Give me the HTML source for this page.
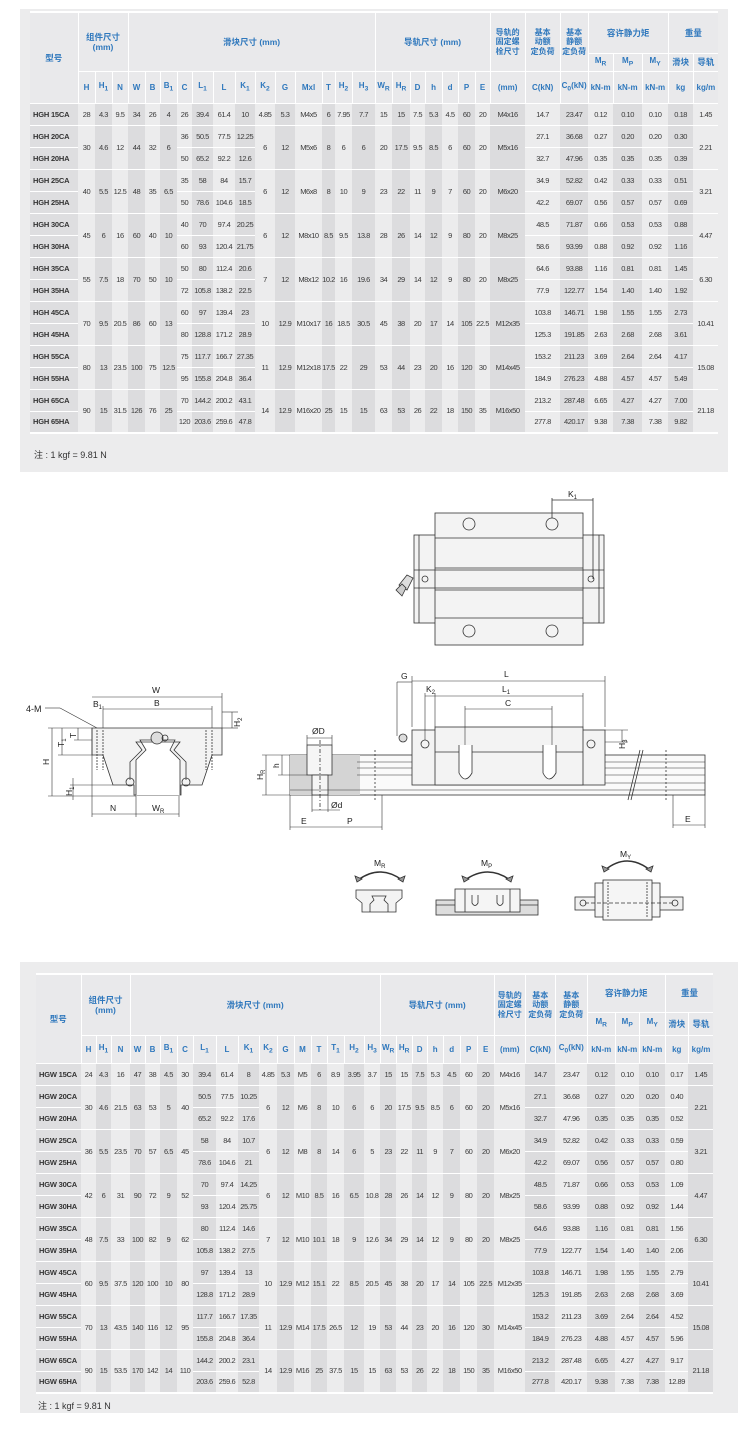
<!DOCTYPE html>
<html><head><meta charset="utf-8">
<style>
body{margin:0;width:750px;height:1448px;background:#fff;position:relative;overflow:hidden;font-family:"Liberation Sans","Noto Sans CJK SC",sans-serif}
.bg{position:absolute;background:#ececed}
table{position:absolute;border-collapse:collapse;table-layout:fixed;font-size:7.5px;color:#3a3a3a;border-top:2px solid #fff;border-bottom:2px solid #fff}
td,th{padding:0;text-align:center;border-bottom:1px solid #fff;white-space:nowrap;overflow:visible;line-height:9px}
td{letter-spacing:-0.45px}
thead th{color:#2f78bd;font-weight:bold;font-size:8px;border-left:1px solid #fff;background:#e9e9eb;overflow:hidden}
thead th.cn{font-size:8.5px;white-space:normal;line-height:10px}
thead th.g{font-size:8px;line-height:9.5px}
tbody th{font-weight:bold;font-size:7.5px;text-align:left;padding-left:3px;color:#333;letter-spacing:-0.2px}
col.s{background:#dcdcde}
col.m{background:#dedee0}
tbody tr{height:22px}
.note{position:absolute;font-size:9px;color:#333}
svg text{font-family:"Liberation Sans",sans-serif;fill:#222}
</style></head><body>
<div class="bg" style="left:20px;top:9px;width:708px;height:463px"></div>
<table style="left:30px;top:11px;width:688px">
<colgroup><col class="m" style="width:48px"><col style="width:17px"><col class="s" style="width:17px"><col style="width:16px"><col class="s" style="width:17px"><col style="width:15px"><col class="s" style="width:17px"><col style="width:15px"><col class="s" style="width:21px"><col style="width:22px"><col class="s" style="width:20px"><col style="width:20px"><col class="s" style="width:20px"><col style="width:27px"><col class="s" style="width:13px"><col style="width:17px"><col class="s" style="width:23px"><col style="width:17px"><col class="s" style="width:18px"><col style="width:15px"><col class="s" style="width:17px"><col style="width:16px"><col class="s" style="width:17px"><col style="width:15px"><col class="s" style="width:35px"><col style="width:35px"><col class="s" style="width:28px"><col style="width:25px"><col class="s" style="width:29px"><col style="width:26px"><col class="s" style="width:25px"><col style="width:25px"></colgroup>
<thead>
<tr style="height:41px"><th class="cn" rowspan="3" style="border-left:none">型号</th><th class="cn" colspan="3" rowspan="2">组件尺寸<br>(mm)</th><th class="cn" colspan="13" rowspan="2">滑块尺寸 (mm)</th><th class="cn" colspan="7" rowspan="2">导轨尺寸 (mm)</th><th class="cn g" rowspan="2">导轨的<br>固定螺<br>栓尺寸</th><th class="cn g" rowspan="2">基本<br>动额<br>定负荷</th><th class="cn g" rowspan="2">基本<br>静额<br>定负荷</th><th class="cn" colspan="3">容许静力矩</th><th class="cn" colspan="2">重量</th></tr>
<tr style="height:18px"><th>M<sub>R</sub></th><th>M<sub>P</sub></th><th>M<sub>Y</sub></th><th class="cn">滑块</th><th class="cn">导轨</th></tr>
<tr style="height:32px"><th>H</th><th>H<sub>1</sub></th><th>N</th><th>W</th><th>B</th><th>B<sub>1</sub></th><th>C</th><th>L<sub>1</sub></th><th>L</th><th>K<sub>1</sub></th><th>K<sub>2</sub></th><th>G</th><th>Mxl</th><th>T</th><th>H<sub>2</sub></th><th>H<sub>3</sub></th><th>W<sub>R</sub></th><th>H<sub>R</sub></th><th>D</th><th>h</th><th>d</th><th>P</th><th>E</th><th>(mm)</th><th>C(kN)</th><th>C<sub>0</sub>(kN)</th><th>kN-m</th><th>kN-m</th><th>kN-m</th><th>kg</th><th>kg/m</th></tr>
</thead>
<tbody>
<tr><th>HGH 15CA</th><td>28</td><td>4.3</td><td>9.5</td><td>34</td><td>26</td><td>4</td><td>26</td><td>39.4</td><td>61.4</td><td>10</td><td>4.85</td><td>5.3</td><td>M4x5</td><td>6</td><td>7.95</td><td>7.7</td><td>15</td><td>15</td><td>7.5</td><td>5.3</td><td>4.5</td><td>60</td><td>20</td><td>M4x16</td><td>14.7</td><td>23.47</td><td>0.12</td><td>0.10</td><td>0.10</td><td>0.18</td><td>1.45</td></tr>
<tr><th>HGH 20CA</th><td rowspan="2">30</td><td rowspan="2">4.6</td><td rowspan="2">12</td><td rowspan="2">44</td><td rowspan="2">32</td><td rowspan="2">6</td><td>36</td><td>50.5</td><td>77.5</td><td>12.25</td><td rowspan="2">6</td><td rowspan="2">12</td><td rowspan="2">M5x6</td><td rowspan="2">8</td><td rowspan="2">6</td><td rowspan="2">6</td><td rowspan="2">20</td><td rowspan="2">17.5</td><td rowspan="2">9.5</td><td rowspan="2">8.5</td><td rowspan="2">6</td><td rowspan="2">60</td><td rowspan="2">20</td><td rowspan="2">M5x16</td><td>27.1</td><td>36.68</td><td>0.27</td><td>0.20</td><td>0.20</td><td>0.30</td><td rowspan="2">2.21</td></tr>
<tr><th>HGH 20HA</th><td>50</td><td>65.2</td><td>92.2</td><td>12.6</td><td>32.7</td><td>47.96</td><td>0.35</td><td>0.35</td><td>0.35</td><td>0.39</td></tr>
<tr><th>HGH 25CA</th><td rowspan="2">40</td><td rowspan="2">5.5</td><td rowspan="2">12.5</td><td rowspan="2">48</td><td rowspan="2">35</td><td rowspan="2">6.5</td><td>35</td><td>58</td><td>84</td><td>15.7</td><td rowspan="2">6</td><td rowspan="2">12</td><td rowspan="2">M6x8</td><td rowspan="2">8</td><td rowspan="2">10</td><td rowspan="2">9</td><td rowspan="2">23</td><td rowspan="2">22</td><td rowspan="2">11</td><td rowspan="2">9</td><td rowspan="2">7</td><td rowspan="2">60</td><td rowspan="2">20</td><td rowspan="2">M6x20</td><td>34.9</td><td>52.82</td><td>0.42</td><td>0.33</td><td>0.33</td><td>0.51</td><td rowspan="2">3.21</td></tr>
<tr><th>HGH 25HA</th><td>50</td><td>78.6</td><td>104.6</td><td>18.5</td><td>42.2</td><td>69.07</td><td>0.56</td><td>0.57</td><td>0.57</td><td>0.69</td></tr>
<tr><th>HGH 30CA</th><td rowspan="2">45</td><td rowspan="2">6</td><td rowspan="2">16</td><td rowspan="2">60</td><td rowspan="2">40</td><td rowspan="2">10</td><td>40</td><td>70</td><td>97.4</td><td>20.25</td><td rowspan="2">6</td><td rowspan="2">12</td><td rowspan="2">M8x10</td><td rowspan="2">8.5</td><td rowspan="2">9.5</td><td rowspan="2">13.8</td><td rowspan="2">28</td><td rowspan="2">26</td><td rowspan="2">14</td><td rowspan="2">12</td><td rowspan="2">9</td><td rowspan="2">80</td><td rowspan="2">20</td><td rowspan="2">M8x25</td><td>48.5</td><td>71.87</td><td>0.66</td><td>0.53</td><td>0.53</td><td>0.88</td><td rowspan="2">4.47</td></tr>
<tr><th>HGH 30HA</th><td>60</td><td>93</td><td>120.4</td><td>21.75</td><td>58.6</td><td>93.99</td><td>0.88</td><td>0.92</td><td>0.92</td><td>1.16</td></tr>
<tr><th>HGH 35CA</th><td rowspan="2">55</td><td rowspan="2">7.5</td><td rowspan="2">18</td><td rowspan="2">70</td><td rowspan="2">50</td><td rowspan="2">10</td><td>50</td><td>80</td><td>112.4</td><td>20.6</td><td rowspan="2">7</td><td rowspan="2">12</td><td rowspan="2">M8x12</td><td rowspan="2">10.2</td><td rowspan="2">16</td><td rowspan="2">19.6</td><td rowspan="2">34</td><td rowspan="2">29</td><td rowspan="2">14</td><td rowspan="2">12</td><td rowspan="2">9</td><td rowspan="2">80</td><td rowspan="2">20</td><td rowspan="2">M8x25</td><td>64.6</td><td>93.88</td><td>1.16</td><td>0.81</td><td>0.81</td><td>1.45</td><td rowspan="2">6.30</td></tr>
<tr><th>HGH 35HA</th><td>72</td><td>105.8</td><td>138.2</td><td>22.5</td><td>77.9</td><td>122.77</td><td>1.54</td><td>1.40</td><td>1.40</td><td>1.92</td></tr>
<tr><th>HGH 45CA</th><td rowspan="2">70</td><td rowspan="2">9.5</td><td rowspan="2">20.5</td><td rowspan="2">86</td><td rowspan="2">60</td><td rowspan="2">13</td><td>60</td><td>97</td><td>139.4</td><td>23</td><td rowspan="2">10</td><td rowspan="2">12.9</td><td rowspan="2">M10x17</td><td rowspan="2">16</td><td rowspan="2">18.5</td><td rowspan="2">30.5</td><td rowspan="2">45</td><td rowspan="2">38</td><td rowspan="2">20</td><td rowspan="2">17</td><td rowspan="2">14</td><td rowspan="2">105</td><td rowspan="2">22.5</td><td rowspan="2">M12x35</td><td>103.8</td><td>146.71</td><td>1.98</td><td>1.55</td><td>1.55</td><td>2.73</td><td rowspan="2">10.41</td></tr>
<tr><th>HGH 45HA</th><td>80</td><td>128.8</td><td>171.2</td><td>28.9</td><td>125.3</td><td>191.85</td><td>2.63</td><td>2.68</td><td>2.68</td><td>3.61</td></tr>
<tr><th>HGH 55CA</th><td rowspan="2">80</td><td rowspan="2">13</td><td rowspan="2">23.5</td><td rowspan="2">100</td><td rowspan="2">75</td><td rowspan="2">12.5</td><td>75</td><td>117.7</td><td>166.7</td><td>27.35</td><td rowspan="2">11</td><td rowspan="2">12.9</td><td rowspan="2">M12x18</td><td rowspan="2">17.5</td><td rowspan="2">22</td><td rowspan="2">29</td><td rowspan="2">53</td><td rowspan="2">44</td><td rowspan="2">23</td><td rowspan="2">20</td><td rowspan="2">16</td><td rowspan="2">120</td><td rowspan="2">30</td><td rowspan="2">M14x45</td><td>153.2</td><td>211.23</td><td>3.69</td><td>2.64</td><td>2.64</td><td>4.17</td><td rowspan="2">15.08</td></tr>
<tr><th>HGH 55HA</th><td>95</td><td>155.8</td><td>204.8</td><td>36.4</td><td>184.9</td><td>276.23</td><td>4.88</td><td>4.57</td><td>4.57</td><td>5.49</td></tr>
<tr><th>HGH 65CA</th><td rowspan="2">90</td><td rowspan="2">15</td><td rowspan="2">31.5</td><td rowspan="2">126</td><td rowspan="2">76</td><td rowspan="2">25</td><td>70</td><td>144.2</td><td>200.2</td><td>43.1</td><td rowspan="2">14</td><td rowspan="2">12.9</td><td rowspan="2">M16x20</td><td rowspan="2">25</td><td rowspan="2">15</td><td rowspan="2">15</td><td rowspan="2">63</td><td rowspan="2">53</td><td rowspan="2">26</td><td rowspan="2">22</td><td rowspan="2">18</td><td rowspan="2">150</td><td rowspan="2">35</td><td rowspan="2">M16x50</td><td>213.2</td><td>287.48</td><td>6.65</td><td>4.27</td><td>4.27</td><td>7.00</td><td rowspan="2">21.18</td></tr>
<tr><th>HGH 65HA</th><td>120</td><td>203.6</td><td>259.6</td><td>47.8</td><td>277.8</td><td>420.17</td><td>9.38</td><td>7.38</td><td>7.38</td><td>9.82</td></tr>
</tbody></table>
<div class="note" style="left:34px;top:448px">注 : 1 kgf = 9.81 N</div>

<svg style="position:absolute;left:0;top:480px" width="750" height="460" viewBox="0 480 750 460" fill="none" stroke="#333" stroke-width="0.8">
<rect x="414" y="535" width="190" height="88" fill="#f3f3f3"/>
<rect x="435" y="513" width="148" height="132" fill="#f3f3f3"/>
<line x1="435" y1="538" x2="583" y2="538"/><line x1="435" y1="568" x2="583" y2="568"/><line x1="414" y1="570" x2="604" y2="570"/><line x1="414" y1="588" x2="604" y2="588"/><line x1="435" y1="590" x2="583" y2="590"/><line x1="435" y1="618" x2="583" y2="618"/>
<line x1="419" y1="535" x2="419" y2="623"/><line x1="599" y1="535" x2="599" y2="623"/>
<circle cx="469" cy="524" r="6"/><circle cx="552" cy="524" r="6"/><circle cx="469" cy="631" r="6"/><circle cx="552" cy="631" r="6"/>
<circle cx="425" cy="579" r="3"/><circle cx="591" cy="579" r="3"/>
<path d="M399 585 l8 -10 6 3 -6 12z" fill="#ddd"/><path d="M396 590 l6 -6 4 4 -4 8z" fill="#ccc"/>
<line x1="552" y1="518" x2="552" y2="498"/><line x1="593" y1="498" x2="593" y2="579"/><line x1="552" y1="500" x2="593" y2="500"/>
<rect x="290" y="755" width="415" height="40" fill="#fafafa"/>
<rect x="290" y="755" width="70" height="40" fill="#d4d4d4" stroke="none"/>
<rect x="307" y="745" width="25" height="30" fill="#f5f5f5"/>
<rect x="312" y="775" width="16" height="20" fill="#f5f5f5"/>
<line x1="320" y1="740" x2="320" y2="810" stroke-dasharray="4 2 1 2"/>
<g stroke-width="0.6"><line x1="357" y1="762" x2="412" y2="762"/><line x1="357" y1="768" x2="412" y2="768"/><line x1="357" y1="775" x2="412" y2="775"/><line x1="605" y1="762" x2="705" y2="762"/><line x1="605" y1="768" x2="705" y2="768"/><line x1="605" y1="775" x2="705" y2="775"/><line x1="605" y1="783" x2="705" y2="783"/><line x1="290" y1="790" x2="705" y2="790"/></g>
<line x1="375" y1="750" x2="375" y2="800" stroke-dasharray="2 2"/><line x1="666" y1="750" x2="666" y2="800" stroke-dasharray="2 2"/>
<rect x="412" y="730" width="193" height="55" fill="#f3f3f3"/>
<rect x="435" y="727" width="148" height="58" fill="#f3f3f3"/>
<line x1="435" y1="752" x2="583" y2="752"/>
<path d="M459 745 v28 q6 12 13 0 v-28" fill="#fff"/><path d="M543 745 v28 q6 12 13 0 v-28" fill="#fff"/>
<circle cx="425" cy="744" r="4"/><circle cx="591" cy="744" r="4"/><circle cx="403" cy="738" r="4" fill="#ddd"/>
<line x1="628" y1="800" x2="640" y2="750"/><line x1="631" y1="800" x2="643" y2="750"/>
<g stroke-width="0.6">
<line x1="412" y1="727" x2="412" y2="676"/><line x1="605" y1="727" x2="605" y2="676"/><line x1="412" y1="681" x2="605" y2="681"/>
<line x1="435" y1="727" x2="435" y2="693"/><line x1="583" y1="727" x2="583" y2="693"/><line x1="425" y1="696" x2="583" y2="696"/>
<line x1="465" y1="745" x2="465" y2="706"/><line x1="552" y1="745" x2="552" y2="706"/><line x1="465" y1="709" x2="552" y2="709"/>
<line x1="425" y1="740" x2="425" y2="693"/><line x1="397" y1="682" x2="412" y2="682"/><line x1="397" y1="682" x2="397" y2="736"/>
<line x1="605" y1="730" x2="628" y2="730"/><line x1="605" y1="742" x2="628" y2="742"/><line x1="622" y1="730" x2="622" y2="742"/>
<line x1="290" y1="755" x2="262" y2="755"/><line x1="290" y1="795" x2="262" y2="795"/><line x1="266" y1="755" x2="266" y2="795"/>
<line x1="282" y1="755" x2="282" y2="775"/><line x1="278" y1="775" x2="307" y2="775"/>
<line x1="307" y1="745" x2="307" y2="735"/><line x1="332" y1="745" x2="332" y2="735"/><line x1="307" y1="738" x2="332" y2="738"/>
<line x1="312" y1="795" x2="312" y2="812"/><line x1="328" y1="795" x2="328" y2="812"/><line x1="312" y1="810" x2="340" y2="810"/>
<line x1="290" y1="795" x2="290" y2="830"/><line x1="382" y1="795" x2="382" y2="830"/><line x1="290" y1="827" x2="382" y2="827"/>
<line x1="673" y1="795" x2="673" y2="828"/><line x1="705" y1="795" x2="705" y2="828"/><line x1="673" y1="825" x2="705" y2="825"/>
</g>
<path d="M92 728 H222 V755 H212 L202 785 H181 V795 H134 V785 H113 L103 755 H92 Z" fill="#f3f3f3"/>
<path d="M136 795 V760 L146 750 L140 740 H175 L170 750 L180 760 V795" fill="#fff"/>
<path d="M130 780 V762 L142 750 L136 742 H180 L174 750 L186 762 V780" />
<circle cx="130" cy="782" r="4"/><circle cx="186" cy="782" r="4"/>
<circle cx="157" cy="738" r="6" fill="#ddd"/><circle cx="165" cy="738" r="3"/>
<line x1="97" y1="730" x2="97" y2="770" stroke-dasharray="2 1"/><line x1="103" y1="730" x2="103" y2="770" stroke-dasharray="2 1"/><line x1="212" y1="730" x2="212" y2="770" stroke-dasharray="2 1"/><line x1="206" y1="730" x2="206" y2="770" stroke-dasharray="2 1"/>
<g stroke-width="0.6">
<line x1="92" y1="728" x2="92" y2="817"/><line x1="222" y1="728" x2="222" y2="693"/><line x1="92" y1="697" x2="222" y2="697"/>
<line x1="103" y1="728" x2="103" y2="706"/><line x1="212" y1="728" x2="212" y2="706"/><line x1="103" y1="709" x2="212" y2="709"/>
<line x1="222" y1="728" x2="238" y2="728"/><line x1="222" y1="712" x2="238" y2="712"/><line x1="232" y1="712" x2="232" y2="728"/>
<line x1="48" y1="728" x2="92" y2="728"/><line x1="48" y1="796" x2="136" y2="796"/><line x1="52" y1="728" x2="52" y2="796"/>
<line x1="62" y1="728" x2="62" y2="755"/><line x1="58" y1="755" x2="92" y2="755"/><line x1="78" y1="728" x2="78" y2="740"/><line x1="74" y1="740" x2="92" y2="740"/>
<line x1="73" y1="778" x2="73" y2="800"/><line x1="70" y1="785" x2="113" y2="785"/>
<line x1="136" y1="796" x2="136" y2="817"/><line x1="179" y1="796" x2="179" y2="817"/><line x1="92" y1="814" x2="179" y2="814"/>
<line x1="45" y1="708" x2="60" y2="708"/><line x1="60" y1="708" x2="97" y2="728"/>
</g>
<path d="M356 890 H402 V898 L396 903 V912 H362 V903 L356 898 Z" fill="#f3f3f3"/>
<path d="M370 912 V904 L374 900 L372 896 H386 L384 900 L388 904 V912" />
<path d="M358 880 Q380 864 402 880" stroke-width="1.5"/><path d="M355 876 l2 6 5 -3z" fill="#999"/><path d="M405 876 l-2 6 -5 -3z" fill="#999"/>
<rect x="436" y="900" width="102" height="15" fill="#ddd"/><line x1="436" y1="905" x2="538" y2="905"/>
<rect x="455" y="889" width="65" height="23" fill="#f5f5f5"/><line x1="465" y1="889" x2="465" y2="912"/><line x1="510" y1="889" x2="510" y2="912"/>
<path d="M472 895 v8 q3 5 6 0 v-8"/><path d="M497 895 v8 q3 5 6 0 v-8"/>
<path d="M465 880 Q488 864 510 880" stroke-width="1.5"/><path d="M462 876 l2 6 5 -3z" fill="#999"/><path d="M513 876 l-2 6 -5 -3z" fill="#999"/>
<rect x="575" y="897" width="108" height="13" fill="#f0f0f0"/><circle cx="583" cy="903" r="3"/><circle cx="675" cy="903" r="3"/>
<rect x="595" y="883" width="65" height="34" fill="#f5f5f5"/><rect x="603" y="880" width="49" height="40" fill="#f5f5f5"/>
<line x1="608" y1="882" x2="608" y2="918" stroke-dasharray="2 1"/><line x1="647" y1="882" x2="647" y2="918" stroke-dasharray="2 1"/><line x1="585" y1="903" x2="675" y2="903" stroke-dasharray="4 2"/>
<path d="M605 870 Q627 852 650 870" stroke-width="1.5"/><path d="M602 866 l2 6 5 -3z" fill="#999"/><path d="M653 866 l-2 6 -5 -3z" fill="#999"/>
<g stroke="none" font-size="8.5">
<text x="568" y="497">K<tspan font-size="6" dy="2">1</tspan></text>
<text x="504" y="677">L</text><text x="502" y="692">L<tspan font-size="6" dy="2">1</tspan></text><text x="505" y="706">C</text>
<text x="426" y="692">K<tspan font-size="6" dy="2">2</tspan></text><text x="401" y="679">G</text>
<text x="625" y="741" transform="rotate(-90 625 741)" dx="-8">H<tspan font-size="6" dy="2">3</tspan></text>
<text x="312" y="734">ØD</text><text x="331" y="808">Ød</text><text x="301" y="824">E</text><text x="347" y="824">P</text><text x="685" y="822">E</text>
<text x="263" y="780" transform="rotate(-90 263 780)">H<tspan font-size="6" dy="2">R</tspan></text><text x="279" y="768" transform="rotate(-90 279 768)">h</text>
<text x="152" y="693">W</text><text x="154" y="706">B</text><text x="93" y="707">B<tspan font-size="6" dy="2">1</tspan></text><text x="26" y="712" font-size="9">4-M</text>
<text x="240" y="727" transform="rotate(-90 240 727)">H<tspan font-size="6" dy="2">2</tspan></text>
<text x="49" y="765" transform="rotate(-90 49 765)">H</text><text x="64" y="747" transform="rotate(-90 64 747)">T<tspan font-size="6" dy="2">1</tspan></text><text x="76" y="738" transform="rotate(-90 76 738)">T</text>
<text x="72" y="796" transform="rotate(-90 72 796)">H<tspan font-size="6" dy="2">1</tspan></text>
<text x="110" y="811">N</text><text x="152" y="811">W<tspan font-size="6" dy="2">R</tspan></text>
<text x="374" y="866">M<tspan font-size="6" dy="2">R</tspan></text><text x="481" y="866">M<tspan font-size="6" dy="2">P</tspan></text><text x="620" y="857">M<tspan font-size="6" dy="2">Y</tspan></text>
</g>
</svg>

<div class="bg" style="left:20px;top:962px;width:718px;height:451px"></div>
<table style="left:36px;top:973px;width:676px">
<colgroup><col class="m" style="width:45px"><col style="width:15px"><col class="s" style="width:15px"><col style="width:19px"><col class="s" style="width:15px"><col style="width:15px"><col class="s" style="width:17px"><col style="width:16px"><col class="s" style="width:23px"><col style="width:22px"><col class="s" style="width:21px"><col style="width:18px"><col class="s" style="width:17px"><col style="width:17px"><col class="s" style="width:16px"><col style="width:17px"><col class="s" style="width:20px"><col style="width:16px"><col class="s" style="width:16px"><col style="width:16px"><col class="s" style="width:15px"><col style="width:16px"><col class="s" style="width:17px"><col style="width:17px"><col class="s" style="width:17px"><col style="width:31px"><col class="s" style="width:30px"><col style="width:32px"><col class="s" style="width:28px"><col style="width:24px"><col class="s" style="width:26px"><col style="width:23px"><col class="s" style="width:25px"></colgroup>
<thead>
<tr style="height:38px"><th class="cn" rowspan="3" style="border-left:none">型号</th><th class="cn" colspan="3" rowspan="2">组件尺寸<br>(mm)</th><th class="cn" colspan="14" rowspan="2">滑块尺寸 (mm)</th><th class="cn" colspan="7" rowspan="2">导轨尺寸 (mm)</th><th class="cn g" rowspan="2">导轨的<br>固定螺<br>栓尺寸</th><th class="cn g" rowspan="2">基本<br>动额<br>定负荷</th><th class="cn g" rowspan="2">基本<br>静额<br>定负荷</th><th class="cn" colspan="3">容许静力矩</th><th class="cn" colspan="2">重量</th></tr>
<tr style="height:23px"><th>M<sub>R</sub></th><th>M<sub>P</sub></th><th>M<sub>Y</sub></th><th class="cn">滑块</th><th class="cn">导轨</th></tr>
<tr style="height:28px"><th>H</th><th>H<sub>1</sub></th><th>N</th><th>W</th><th>B</th><th>B<sub>1</sub></th><th>C</th><th>L<sub>1</sub></th><th>L</th><th>K<sub>1</sub></th><th>K<sub>2</sub></th><th>G</th><th>M</th><th>T</th><th>T<sub>1</sub></th><th>H<sub>2</sub></th><th>H<sub>3</sub></th><th>W<sub>R</sub></th><th>H<sub>R</sub></th><th>D</th><th>h</th><th>d</th><th>P</th><th>E</th><th>(mm)</th><th>C(kN)</th><th>C<sub>0</sub>(kN)</th><th>kN-m</th><th>kN-m</th><th>kN-m</th><th>kg</th><th>kg/m</th></tr>
</thead>
<tbody>
<tr><th>HGW 15CA</th><td>24</td><td>4.3</td><td>16</td><td>47</td><td>38</td><td>4.5</td><td>30</td><td>39.4</td><td>61.4</td><td>8</td><td>4.85</td><td>5.3</td><td>M5</td><td>6</td><td>8.9</td><td>3.95</td><td>3.7</td><td>15</td><td>15</td><td>7.5</td><td>5.3</td><td>4.5</td><td>60</td><td>20</td><td>M4x16</td><td>14.7</td><td>23.47</td><td>0.12</td><td>0.10</td><td>0.10</td><td>0.17</td><td>1.45</td></tr>
<tr><th>HGW 20CA</th><td rowspan="2">30</td><td rowspan="2">4.6</td><td rowspan="2">21.5</td><td rowspan="2">63</td><td rowspan="2">53</td><td rowspan="2">5</td><td rowspan="2">40</td><td>50.5</td><td>77.5</td><td>10.25</td><td rowspan="2">6</td><td rowspan="2">12</td><td rowspan="2">M6</td><td rowspan="2">8</td><td rowspan="2">10</td><td rowspan="2">6</td><td rowspan="2">6</td><td rowspan="2">20</td><td rowspan="2">17.5</td><td rowspan="2">9.5</td><td rowspan="2">8.5</td><td rowspan="2">6</td><td rowspan="2">60</td><td rowspan="2">20</td><td rowspan="2">M5x16</td><td>27.1</td><td>36.68</td><td>0.27</td><td>0.20</td><td>0.20</td><td>0.40</td><td rowspan="2">2.21</td></tr>
<tr><th>HGW 20HA</th><td>65.2</td><td>92.2</td><td>17.6</td><td>32.7</td><td>47.96</td><td>0.35</td><td>0.35</td><td>0.35</td><td>0.52</td></tr>
<tr><th>HGW 25CA</th><td rowspan="2">36</td><td rowspan="2">5.5</td><td rowspan="2">23.5</td><td rowspan="2">70</td><td rowspan="2">57</td><td rowspan="2">6.5</td><td rowspan="2">45</td><td>58</td><td>84</td><td>10.7</td><td rowspan="2">6</td><td rowspan="2">12</td><td rowspan="2">M8</td><td rowspan="2">8</td><td rowspan="2">14</td><td rowspan="2">6</td><td rowspan="2">5</td><td rowspan="2">23</td><td rowspan="2">22</td><td rowspan="2">11</td><td rowspan="2">9</td><td rowspan="2">7</td><td rowspan="2">60</td><td rowspan="2">20</td><td rowspan="2">M6x20</td><td>34.9</td><td>52.82</td><td>0.42</td><td>0.33</td><td>0.33</td><td>0.59</td><td rowspan="2">3.21</td></tr>
<tr><th>HGW 25HA</th><td>78.6</td><td>104.6</td><td>21</td><td>42.2</td><td>69.07</td><td>0.56</td><td>0.57</td><td>0.57</td><td>0.80</td></tr>
<tr><th>HGW 30CA</th><td rowspan="2">42</td><td rowspan="2">6</td><td rowspan="2">31</td><td rowspan="2">90</td><td rowspan="2">72</td><td rowspan="2">9</td><td rowspan="2">52</td><td>70</td><td>97.4</td><td>14.25</td><td rowspan="2">6</td><td rowspan="2">12</td><td rowspan="2">M10</td><td rowspan="2">8.5</td><td rowspan="2">16</td><td rowspan="2">6.5</td><td rowspan="2">10.8</td><td rowspan="2">28</td><td rowspan="2">26</td><td rowspan="2">14</td><td rowspan="2">12</td><td rowspan="2">9</td><td rowspan="2">80</td><td rowspan="2">20</td><td rowspan="2">M8x25</td><td>48.5</td><td>71.87</td><td>0.66</td><td>0.53</td><td>0.53</td><td>1.09</td><td rowspan="2">4.47</td></tr>
<tr><th>HGW 30HA</th><td>93</td><td>120.4</td><td>25.75</td><td>58.6</td><td>93.99</td><td>0.88</td><td>0.92</td><td>0.92</td><td>1.44</td></tr>
<tr><th>HGW 35CA</th><td rowspan="2">48</td><td rowspan="2">7.5</td><td rowspan="2">33</td><td rowspan="2">100</td><td rowspan="2">82</td><td rowspan="2">9</td><td rowspan="2">62</td><td>80</td><td>112.4</td><td>14.6</td><td rowspan="2">7</td><td rowspan="2">12</td><td rowspan="2">M10</td><td rowspan="2">10.1</td><td rowspan="2">18</td><td rowspan="2">9</td><td rowspan="2">12.6</td><td rowspan="2">34</td><td rowspan="2">29</td><td rowspan="2">14</td><td rowspan="2">12</td><td rowspan="2">9</td><td rowspan="2">80</td><td rowspan="2">20</td><td rowspan="2">M8x25</td><td>64.6</td><td>93.88</td><td>1.16</td><td>0.81</td><td>0.81</td><td>1.56</td><td rowspan="2">6.30</td></tr>
<tr><th>HGW 35HA</th><td>105.8</td><td>138.2</td><td>27.5</td><td>77.9</td><td>122.77</td><td>1.54</td><td>1.40</td><td>1.40</td><td>2.06</td></tr>
<tr><th>HGW 45CA</th><td rowspan="2">60</td><td rowspan="2">9.5</td><td rowspan="2">37.5</td><td rowspan="2">120</td><td rowspan="2">100</td><td rowspan="2">10</td><td rowspan="2">80</td><td>97</td><td>139.4</td><td>13</td><td rowspan="2">10</td><td rowspan="2">12.9</td><td rowspan="2">M12</td><td rowspan="2">15.1</td><td rowspan="2">22</td><td rowspan="2">8.5</td><td rowspan="2">20.5</td><td rowspan="2">45</td><td rowspan="2">38</td><td rowspan="2">20</td><td rowspan="2">17</td><td rowspan="2">14</td><td rowspan="2">105</td><td rowspan="2">22.5</td><td rowspan="2">M12x35</td><td>103.8</td><td>146.71</td><td>1.98</td><td>1.55</td><td>1.55</td><td>2.79</td><td rowspan="2">10.41</td></tr>
<tr><th>HGW 45HA</th><td>128.8</td><td>171.2</td><td>28.9</td><td>125.3</td><td>191.85</td><td>2.63</td><td>2.68</td><td>2.68</td><td>3.69</td></tr>
<tr><th>HGW 55CA</th><td rowspan="2">70</td><td rowspan="2">13</td><td rowspan="2">43.5</td><td rowspan="2">140</td><td rowspan="2">116</td><td rowspan="2">12</td><td rowspan="2">95</td><td>117.7</td><td>166.7</td><td>17.35</td><td rowspan="2">11</td><td rowspan="2">12.9</td><td rowspan="2">M14</td><td rowspan="2">17.5</td><td rowspan="2">26.5</td><td rowspan="2">12</td><td rowspan="2">19</td><td rowspan="2">53</td><td rowspan="2">44</td><td rowspan="2">23</td><td rowspan="2">20</td><td rowspan="2">16</td><td rowspan="2">120</td><td rowspan="2">30</td><td rowspan="2">M14x45</td><td>153.2</td><td>211.23</td><td>3.69</td><td>2.64</td><td>2.64</td><td>4.52</td><td rowspan="2">15.08</td></tr>
<tr><th>HGW 55HA</th><td>155.8</td><td>204.8</td><td>36.4</td><td>184.9</td><td>276.23</td><td>4.88</td><td>4.57</td><td>4.57</td><td>5.96</td></tr>
<tr><th>HGW 65CA</th><td rowspan="2">90</td><td rowspan="2">15</td><td rowspan="2">53.5</td><td rowspan="2">170</td><td rowspan="2">142</td><td rowspan="2">14</td><td rowspan="2">110</td><td>144.2</td><td>200.2</td><td>23.1</td><td rowspan="2">14</td><td rowspan="2">12.9</td><td rowspan="2">M16</td><td rowspan="2">25</td><td rowspan="2">37.5</td><td rowspan="2">15</td><td rowspan="2">15</td><td rowspan="2">63</td><td rowspan="2">53</td><td rowspan="2">26</td><td rowspan="2">22</td><td rowspan="2">18</td><td rowspan="2">150</td><td rowspan="2">35</td><td rowspan="2">M16x50</td><td>213.2</td><td>287.48</td><td>6.65</td><td>4.27</td><td>4.27</td><td>9.17</td><td rowspan="2">21.18</td></tr>
<tr><th>HGW 65HA</th><td>203.6</td><td>259.6</td><td>52.8</td><td>277.8</td><td>420.17</td><td>9.38</td><td>7.38</td><td>7.38</td><td>12.89</td></tr>
</tbody></table>
<div class="note" style="left:38px;top:1399px">注 : 1 kgf = 9.81 N</div>
</body></html>
